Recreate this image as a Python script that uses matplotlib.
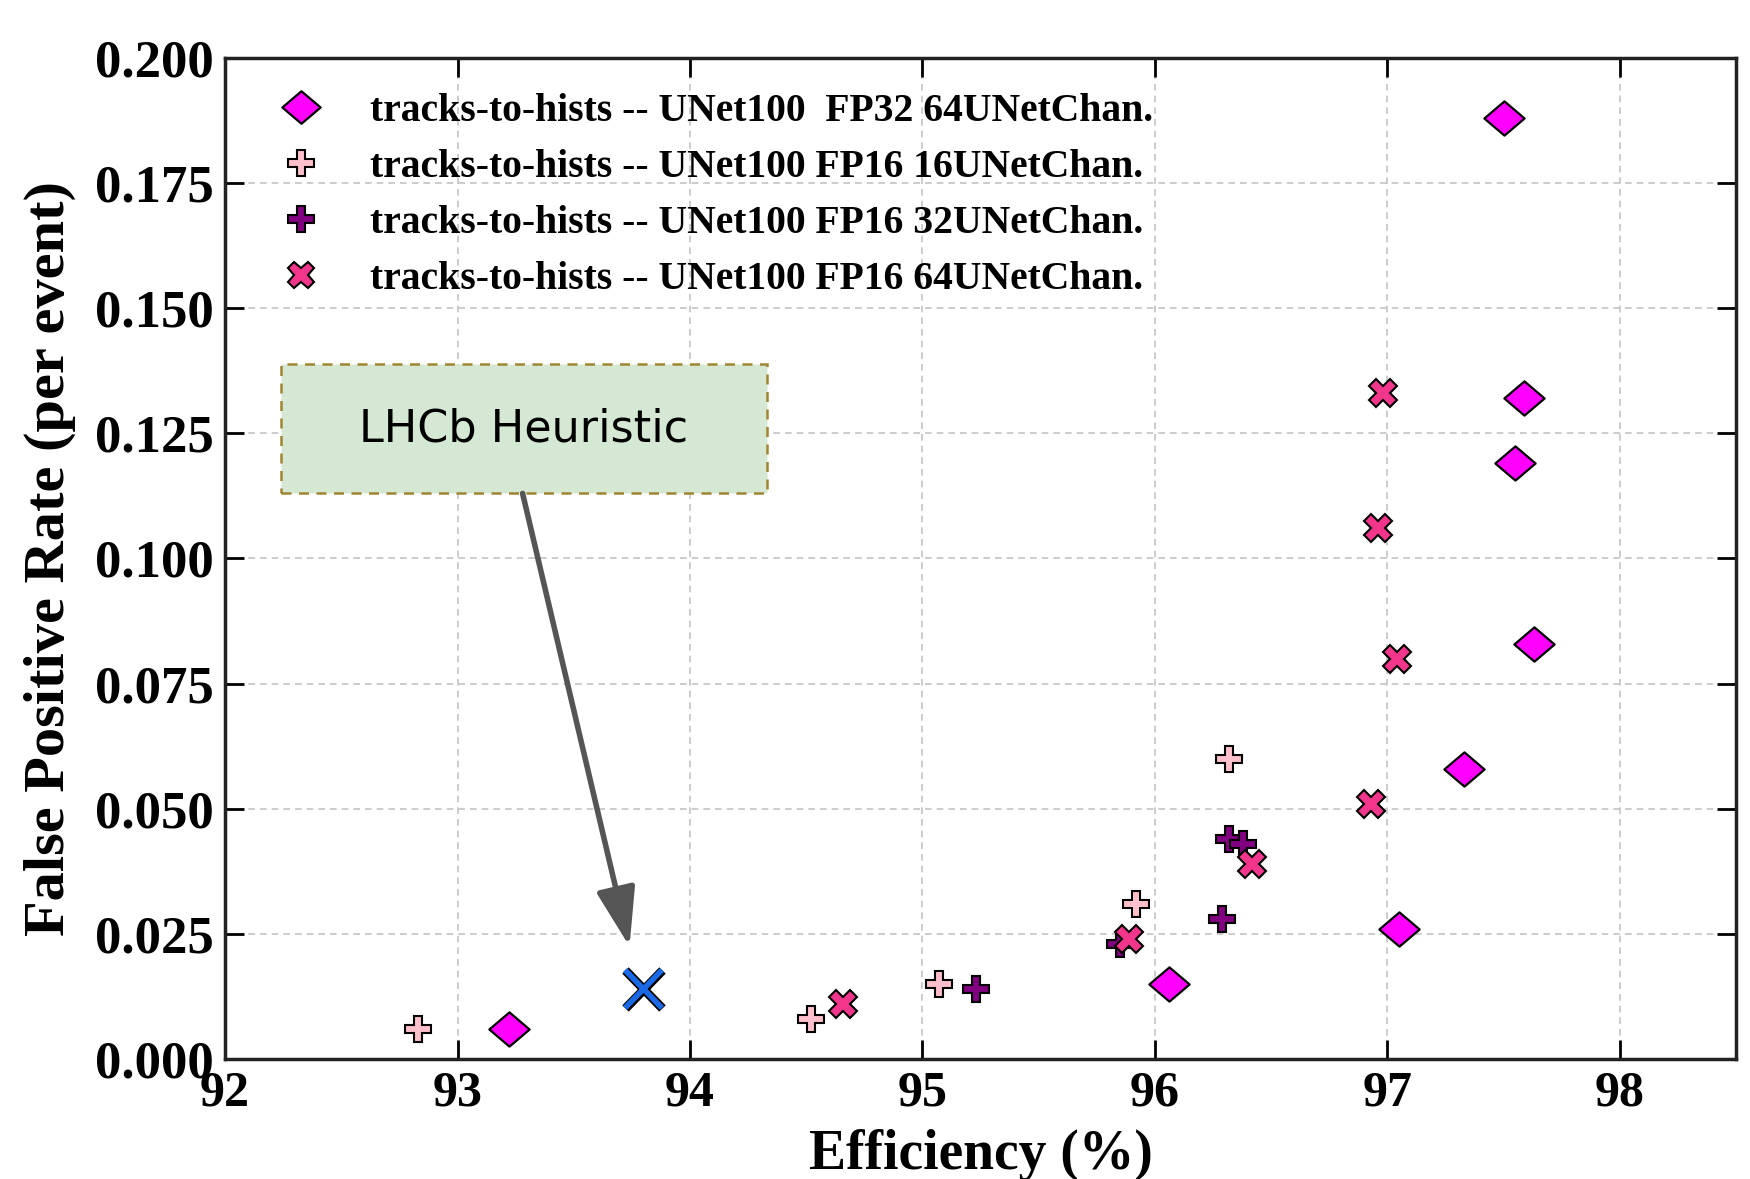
import matplotlib
matplotlib.use("Agg")
import matplotlib.pyplot as plt
from matplotlib.patches import Rectangle
from matplotlib.path import Path
import matplotlib.patheffects as pe

# ---------------- data ----------------
fp32_64_eff = [97.50, 97.59, 97.55, 97.63, 97.33, 97.05, 96.06, 93.22]
fp32_64_fpr = [0.188, 0.132, 0.119, 0.083, 0.058, 0.026, 0.015, 0.006]

fp16_16_eff = [92.83, 94.52, 95.07, 95.92, 96.32]
fp16_16_fpr = [0.006, 0.008, 0.015, 0.031, 0.060]

fp16_32_eff = [95.23, 95.85, 96.29, 96.32, 96.38]
fp16_32_fpr = [0.014, 0.023, 0.028, 0.044, 0.043]

fp16_64_eff = [94.66, 95.89, 96.42, 96.93, 97.04, 96.96, 96.98]
fp16_64_fpr = [0.011, 0.024, 0.039, 0.051, 0.080, 0.106, 0.133]

lhcb_eff = [93.80]
lhcb_fpr = [0.014]

labels = [
    "tracks-to-hists -- UNet100  FP32 64UNetChan.",
    "tracks-to-hists -- UNet100 FP16 16UNetChan.",
    "tracks-to-hists -- UNet100 FP16 32UNetChan.",
    "tracks-to-hists -- UNet100 FP16 64UNetChan.",
]
xticks = [92, 93, 94, 95, 96, 97, 98]
yticks = [0.000, 0.025, 0.050, 0.075, 0.100, 0.125, 0.150, 0.175, 0.200]
ytick_labels = ["0.000", "0.025", "0.050", "0.075", "0.100", "0.125", "0.150", "0.175", "0.200"]
annot_text = "LHCb Heuristic"

# ---------------- figure ----------------
serif = ["Liberation Serif", "DejaVu Serif"]
fig = plt.figure(figsize=(17.5, 11.79), dpi=100)
ax = fig.add_axes([0.1286, 0.1018, 0.8634, 0.849])

diamond = Path([(-1, 0), (0, 0.85), (1, 0), (0, -0.85), (-1, 0)],
               [Path.MOVETO, Path.LINETO, Path.LINETO, Path.LINETO, Path.CLOSEPOLY])

ax.plot(fp32_64_eff, fp32_64_fpr, linestyle="none", marker=diamond, markersize=29,
        markerfacecolor="#ff00ff", markeredgecolor="black", markeredgewidth=1.6,
        label=labels[0], zorder=4)
ax.plot(fp16_16_eff, fp16_16_fpr, linestyle="none", marker="P", markersize=19,
        markerfacecolor="#ffc0cb", markeredgecolor="black", markeredgewidth=1.5,
        label=labels[1], zorder=4)
ax.plot(fp16_32_eff, fp16_32_fpr, linestyle="none", marker="P", markersize=19,
        markerfacecolor="#800080", markeredgecolor="black", markeredgewidth=1.5,
        label=labels[2], zorder=4)
ax.plot(fp16_64_eff, fp16_64_fpr, linestyle="none", marker="X", markersize=20,
        markerfacecolor="#f2368c", markeredgecolor="black", markeredgewidth=1.5,
        label=labels[3], zorder=4)

ax.plot(lhcb_eff, lhcb_fpr, linestyle="none", marker="x", markersize=27,
        markeredgecolor="#1a6ae8", markeredgewidth=4, zorder=5,
        path_effects=[pe.Stroke(linewidth=6.5, foreground="black"), pe.Normal()])

ax.set_xlim(92, 98.5)
ax.set_ylim(0, 0.2)
ax.set_xticks(xticks)
ax.set_xticklabels([str(t) for t in xticks])
ax.set_yticks(yticks)
ax.set_yticklabels(ytick_labels)

ax.grid(True, color="#c4c4c4", linestyle=(0, (4, 3)), linewidth=1.2, zorder=0)
ax.set_axisbelow(True)
ax.tick_params(direction="in", length=14, width=2, top=True, right=True, pad=8)
ax.tick_params(axis="x", labelsize=36)
ax.tick_params(axis="y", labelsize=38)
for lab in ax.get_xticklabels() + ax.get_yticklabels():
    lab.set_fontfamily(serif)
    lab.set_fontweight("bold")
for s in ax.spines.values():
    s.set_linewidth(2.5)
    s.set_color("#222222")

ax.set_xlabel("Efficiency (%)", fontsize=40, fontweight="bold", family=serif)
ax.set_ylabel("False Positive Rate (per event)", fontsize=42, fontweight="bold", family=serif)
ax.xaxis.set_label_coords(0.5, -0.07)
ax.yaxis.set_label_coords(-0.0986, 0.5)

leg = ax.legend(loc="upper left", bbox_to_anchor=(0.024, 0.965), frameon=False,
                borderaxespad=0, borderpad=0, numpoints=1, handlelength=2,
                handletextpad=0.74, labelspacing=0.48,
                prop={"family": serif, "weight": "bold", "size": 28.5})
for h in leg.legend_handles:
    h.set_markersize(h.get_markersize() * 0.95)

# annotation box + arrow
ax.add_patch(Rectangle((92.24, 0.1130), 94.33 - 92.24, 0.1389 - 0.1130,
                       facecolor="#d5e8d4", edgecolor="#a08530", linestyle=(0, (4, 3)),
                       linewidth=1.8, zorder=3))
ax.text((92.24 + 94.33) / 2, (0.1130 + 0.1389) / 2, annot_text, fontsize=32,
        family="DejaVu Sans", ha="center", va="center", zorder=4)
ax.annotate("", xy=(93.74, 0.0225), xytext=(93.28, 0.1130),
            arrowprops=dict(arrowstyle="-|>,head_length=1.8,head_width=0.6",
                            mutation_scale=20, color="#555555", lw=4,
                            shrinkA=0, shrinkB=0), zorder=3)

fig.savefig("out.png", dpi=100)
